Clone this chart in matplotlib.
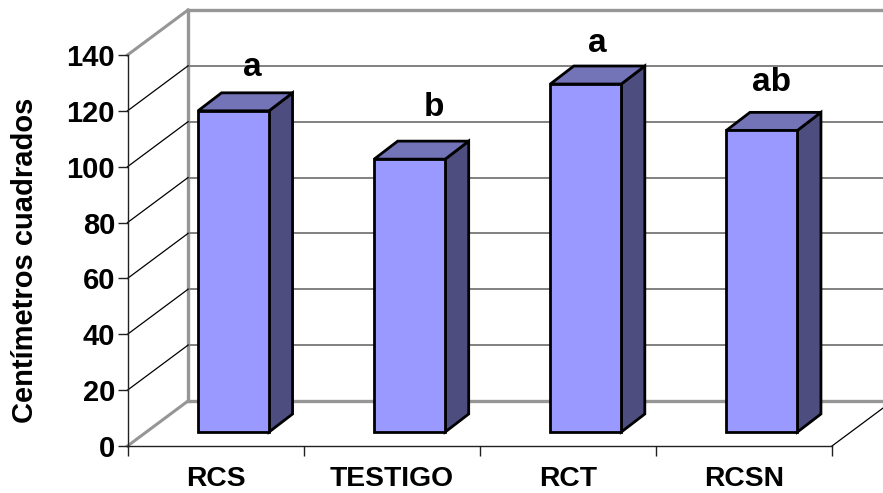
import matplotlib
matplotlib.use("Agg")
import matplotlib.pyplot as plt
from matplotlib.patches import Polygon, Rectangle

plt.rcParams['font.family'] = ['Liberation Sans', 'DejaVu Sans']

categories = ['RCS', 'TESTIGO', 'RCT', 'RCSN']
values = [115, 97.7, 124.6, 108]
letters = ['a', 'b', 'a', 'ab']
y_ticks = [0, 20, 40, 60, 80, 100, 120, 140]
ylabel = 'Centímetros cuadrados'
letter_nudge_px = [(7, 1), (12, 9), (0, -2), (-2, 5)]

W, H = 883, 493
fig = plt.figure(figsize=(W / 100, H / 100), dpi=100, facecolor='white')
# front plane in pixels
L, R, T, B = 127.5, 832.0, 55.0, 446.0
ax = fig.add_axes([L / W, 1 - B / H, (R - L) / W, (B - T) / H])
ax.set_xlim(0, 4)
ax.set_ylim(0, 140)
ax.patch.set_visible(False)
for s in ['top', 'right']:
    ax.spines[s].set_visible(False)
for s in ['left', 'bottom']:
    ax.spines[s].set_linewidth(1.0)
    ax.spines[s].set_color('#202020')
    ax.spines[s].set_zorder(2)

sx = 4 / (R - L)      # data units per pixel, x
sy = 140 / (B - T)    # data units per pixel, y
DX, DY = 60.5 * sx, 45.0 * sy          # wall depth
dx, dy = 23.5 * sx, 18.0 * sy          # bar depth
BAR_W = 71 * sx
BAR_SHIFT = 18 * sx
BAR_BASE = 14 * sy
GRAY = '#969696'
XR = 4 + 100 * sx

# back wall
ax.plot([DX, DX], [DY, 140 + DY], color=GRAY, lw=2.4, clip_on=False, zorder=1)
for v in y_ticks:
    top_or_floor = v in (0, 140)
    ax.plot([DX, XR], [v + DY, v + DY], color=GRAY if top_or_floor else '#808080',
            lw=2.4 if top_or_floor else 1.4, clip_on=False, zorder=1)
    ax.plot([0, DX], [v, v + DY], color=GRAY if top_or_floor else 'black',
            lw=2.2 if top_or_floor else 0.9, clip_on=False, zorder=1)
ax.plot([4, 4 + DX], [0, DY], color='black', lw=0.9, clip_on=False, zorder=1)

# bars
for i, (v, let) in enumerate(zip(values, letters)):
    x0 = i + 0.5 + BAR_SHIFT - BAR_W / 2
    x1 = x0 + BAR_W
    y0 = BAR_BASE
    y1 = v + y0
    kw = dict(edgecolor='black', lw=2.0, joinstyle='miter', clip_on=False, zorder=4)
    ax.add_patch(Polygon([(x1, y0), (x1 + dx, y0 + dy), (x1 + dx, y1 + dy), (x1, y1)],
                         facecolor='#4d4d80', **kw))
    ax.add_patch(Polygon([(x0, y1), (x0 + dx, y1 + dy), (x1 + dx, y1 + dy), (x1, y1)],
                         facecolor='#7373b8', **kw))
    ax.add_patch(Rectangle((x0, y0), BAR_W, v, facecolor='#9999ff', **kw))
    nx, ny = letter_nudge_px[i]
    ax.text((x0 + x1) / 2 + dx / 2 + nx * sx, y1 + dy + (9 + ny) * sy, let,
            ha='center', va='bottom', fontsize=24, fontweight='bold',
            color='black', zorder=5, clip_on=False)

ax.set_yticks(y_ticks)
ax.set_xticks(range(5))
ax.set_xticklabels([])
ax.tick_params(axis='both', length=7, width=1.0, color='#202020', direction='out')
ax.tick_params(axis='y', pad=2, labelsize=21)
for t in ax.get_yticklabels():
    t.set_fontweight('bold')
for i, c in enumerate(categories):
    ax.text(i + 0.5, -33.5 * sy, c, ha='center', va='center', fontsize=20.3,
            fontweight='bold', clip_on=False)
fig.text(25 / W, 1 - 260 / H, ylabel, rotation=90, ha='center', va='center',
         fontsize=21, fontweight='bold')
fig.savefig('out.png', dpi=100)
